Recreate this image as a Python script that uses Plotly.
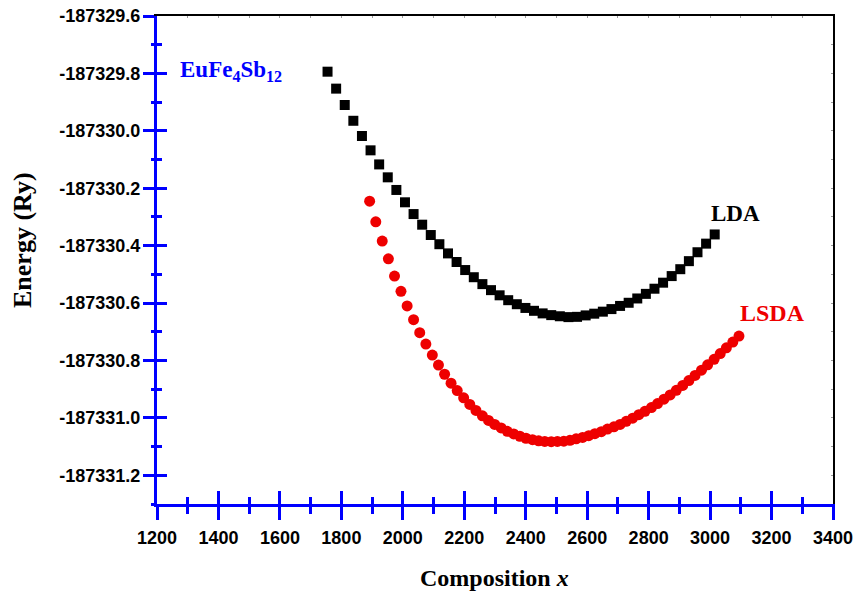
import plotly.graph_objects as go

# ---------------- data ----------------
lda_x = [1755, 1783, 1811, 1839, 1867, 1895, 1923, 1951, 1979, 2007,
         2035, 2063, 2091, 2119, 2147, 2175, 2203, 2231, 2259, 2287,
         2315, 2343, 2371, 2399, 2427, 2455, 2483, 2511, 2539, 2567,
         2595, 2623, 2651, 2679, 2707, 2735, 2763, 2791, 2819, 2847,
         2875, 2903, 2931, 2959, 2987, 3015]
lda_e = [-187329.794, -187329.853, -187329.910, -187329.965, -187330.018,
         -187330.068, -187330.117, -187330.162, -187330.206, -187330.249,
         -187330.290, -187330.327, -187330.363, -187330.395, -187330.427,
         -187330.457, -187330.485, -187330.510, -187330.534, -187330.555,
         -187330.573, -187330.590, -187330.604, -187330.617, -187330.627,
         -187330.636, -187330.642, -187330.646, -187330.649, -187330.648,
         -187330.643, -187330.637, -187330.630, -187330.621, -187330.610,
         -187330.599, -187330.584, -187330.568, -187330.550, -187330.529,
         -187330.506, -187330.482, -187330.454, -187330.423, -187330.393,
         -187330.361]

lsda_x = [1892, 1912, 1933, 1953, 1973, 1994, 2014, 2035, 2055, 2075,
          2096, 2116, 2136, 2157, 2177, 2198, 2218, 2238, 2259, 2279,
          2299, 2320, 2340, 2361, 2381, 2401, 2422, 2442, 2462, 2483,
          2503, 2524, 2544, 2564, 2585, 2605, 2625, 2646, 2666, 2687,
          2707, 2727, 2748, 2768, 2788, 2809, 2829, 2850, 2870, 2890,
          2911, 2931, 2951, 2972, 2992, 3013, 3033, 3053, 3074, 3094]
lsda_e = [-187330.245, -187330.317, -187330.384, -187330.446, -187330.506,
          -187330.559, -187330.610, -187330.658, -187330.703, -187330.743,
          -187330.781, -187330.816, -187330.848, -187330.879, -187330.905,
          -187330.930, -187330.953, -187330.974, -187330.993, -187331.009,
          -187331.023, -187331.035, -187331.047, -187331.056, -187331.064,
          -187331.071, -187331.076, -187331.080, -187331.082, -187331.083,
          -187331.082, -187331.081, -187331.078, -187331.073, -187331.068,
          -187331.062, -187331.055, -187331.048, -187331.039, -187331.031,
          -187331.023, -187331.012, -187331.001, -187330.989, -187330.977,
          -187330.964, -187330.950, -187330.935, -187330.920, -187330.904,
          -187330.887, -187330.870, -187330.852, -187330.834, -187330.815,
          -187330.796, -187330.776, -187330.756, -187330.736, -187330.715]

x_tick_vals = [1200, 1400, 1600, 1800, 2000, 2200, 2400, 2600, 2800, 3000, 3200, 3400]
x_tick_text = ["1200", "1400", "1600", "1800", "2000", "2200", "2400", "2600",
               "2800", "3000", "3200", "3400"]
y_tick_vals = [-187331.2, -187331.0, -187330.8, -187330.6, -187330.4,
               -187330.2, -187330.0, -187329.8, -187329.6]
y_tick_text = ["-187331.2", "-187331.0", "-187330.8", "-187330.6", "-187330.4",
               "-187330.2", "-187330.0", "-187329.8", "-187329.6"]

x_range = [1200, 3400]
y_range = [-187331.3, -187329.6]

BLUE = "#0000ff"
RED = "#ee0000"
tickfont = dict(family="Liberation Sans", size=18, color="black", weight="bold")
serif = "Liberation Serif"

fig = go.Figure()
fig.add_trace(go.Scatter(x=lda_x, y=lda_e, mode="markers", name="LDA",
                         marker=dict(symbol="square", size=10, color="black",
                                     line=dict(width=0))))
fig.add_trace(go.Scatter(x=lsda_x, y=lsda_e, mode="markers", name="LSDA",
                         marker=dict(symbol="circle", size=11, color=RED,
                                     line=dict(width=0))))
# empty traces to activate overlay axes (inner ticks and black frame)
fig.add_trace(go.Scatter(x=[], y=[], xaxis="x2", yaxis="y2", showlegend=False, hoverinfo="skip"))
fig.add_trace(go.Scatter(x=[], y=[], xaxis="x3", yaxis="y3", showlegend=False, hoverinfo="skip"))

common = dict(showgrid=False, zeroline=False, automargin=False)

L, R, T, B = 157, 21, 16, 95
W, H = 854, 599
PW, PH = W - L - R, H - T - B

fig.update_layout(
    width=W, height=H,
    margin=dict(l=L, r=R, t=T, b=B, autoexpand=False),
    paper_bgcolor="white", plot_bgcolor="white",
    showlegend=False,
    xaxis=dict(range=x_range, tickmode="array", tickvals=x_tick_vals, ticktext=x_tick_text,
               ticks="outside", ticklen=13, tickwidth=3, tickcolor=BLUE,
               showline=True, linecolor=BLUE, linewidth=3,
               minor=dict(dtick=100, tick0=1200, ticks="outside", ticklen=7, tickwidth=3, tickcolor=BLUE),
               tickfont=tickfont, ticklabelstandoff=2, **common),
    yaxis=dict(range=y_range, tickmode="array", tickvals=y_tick_vals, ticktext=y_tick_text,
               ticks="outside", ticklen=11, tickwidth=3, tickcolor=BLUE,
               showline=True, linecolor=BLUE, linewidth=3,
               minor=dict(dtick=0.1, tick0=-187331.3, ticks="outside", ticklen=3, tickwidth=3, tickcolor=BLUE),
               tickfont=tickfont, ticklabelstandoff=-1, **common),
    xaxis2=dict(range=x_range, overlaying="x", side="bottom", anchor="y2",
                tickmode="array", tickvals=x_tick_vals, showticklabels=False,
                ticks="inside", ticklen=13, tickwidth=3, tickcolor=BLUE, showline=False,
                minor=dict(dtick=100, tick0=1200, ticks="inside", ticklen=7, tickwidth=3, tickcolor=BLUE),
                **common),
    yaxis2=dict(range=y_range, overlaying="y", side="left", anchor="x2",
                tickmode="array", tickvals=y_tick_vals, showticklabels=False,
                ticks="inside", ticklen=10, tickwidth=3, tickcolor=BLUE, showline=False,
                minor=dict(dtick=0.1, tick0=-187331.3, ticks="inside", ticklen=5, tickwidth=3, tickcolor=BLUE),
                **common),
    xaxis3=dict(range=x_range, overlaying="x", side="top", anchor="y3",
                showticklabels=False, dtick=100, tick0=1200,
                ticks="inside", ticklen=2, tickwidth=1, tickcolor="#999999",
                showline=True, linecolor="black", linewidth=2, **common),
    yaxis3=dict(range=y_range, overlaying="y", side="right", anchor="x3",
                showticklabels=False, dtick=0.1, tick0=-187331.3,
                ticks="inside", ticklen=2, tickwidth=1, tickcolor="#999999",
                showline=True, linecolor="black", linewidth=2, **common),
)

annots = [
    dict(text="<b>Energy (Ry)</b>", x=23, y=240, angle=-90, size=26, color="black"),
    dict(text="<b>Composition <i>x</i></b>", x=494, y=578, angle=0, size=24, color="black"),
]
for a in annots:
    fig.add_annotation(text=a["text"], xref="paper", yref="paper",
                       x=(a["x"] - L) / PW, y=(H - B - a["y"]) / PH,
                       xanchor="center", yanchor="middle", textangle=a["angle"],
                       showarrow=False,
                       font=dict(family=serif, size=a["size"], color=a["color"]))

labels = [
    dict(text="<b>EuFe<sub>4</sub>Sb<sub>12</sub></b>", x=180, y=71, size=23, color=BLUE),
    dict(text="<b>LDA</b>", x=711, y=213, size=23, color="black"),
    dict(text="<b>LSDA</b>", x=740, y=313, size=24, color=RED),
]
for a in labels:
    fig.add_annotation(text=a["text"], xref="paper", yref="paper",
                       x=(a["x"] - L) / PW, y=(H - B - a["y"]) / PH,
                       xanchor="left", yanchor="middle", showarrow=False,
                       xshift=-2,
                       font=dict(family=serif, size=a["size"], color=a["color"]))

fig.write_html("out.html")
